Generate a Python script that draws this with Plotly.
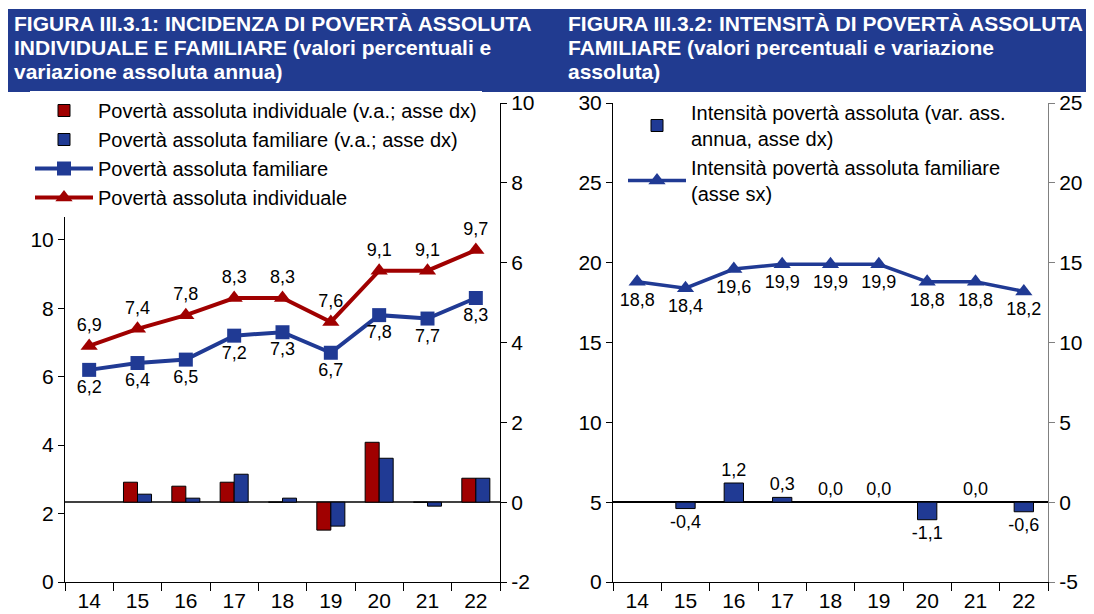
import plotly.graph_objects as go

years = ["14", "15", "16", "17", "18", "19", "20", "21", "22"]

# Figure III.3.1
pov_fam = [6.2, 6.4, 6.5, 7.2, 7.3, 6.7, 7.8, 7.7, 8.3]
pov_ind = [6.9, 7.4, 7.8, 8.3, 8.3, 7.6, 9.1, 9.1, 9.7]
var_ind = [None, 0.5, 0.4, 0.5, 0.0, -0.7, 1.5, 0.0, 0.6]
var_fam = [None, 0.2, 0.1, 0.7, 0.1, -0.6, 1.1, -0.1, 0.6]

# Figure III.3.2
intens = [18.8, 18.4, 19.6, 19.9, 19.9, 19.9, 18.8, 18.8, 18.2]
intens_var = [None, -0.4, 1.2, 0.3, 0.0, 0.0, -1.1, 0.0, -0.6]

# right-axis tick labels (with plain hyphen minus as in the source)
y2_ticks = [-2, 0, 2, 4, 6, 8, 10]
y4_ticks = [-5, 0, 5, 10, 15, 20, 25]

title1 = ["FIGURA III.3.1: INCIDENZA DI POVERTÀ ASSOLUTA",
          "INDIVIDUALE E FAMILIARE (valori percentuali e",
          "variazione assoluta annua)"]
title2 = ["FIGURA III.3.2: INTENSITÀ DI POVERTÀ ASSOLUTA",
          "FAMILIARE (valori percentuali e variazione",
          "assoluta)"]

RED = "#A00000"
BLUE = "#203A94"
TITLE_BG = "#213B90"
FONT = "Liberation Sans, Arial, sans-serif"


def lab(vals):
    return ["" if v is None else f"{v:.1f}".replace(".", ",") for v in vals]


# the page body has an 8px margin: the figure origin sits at (8, 8) of the window
OFF = 8
W, H = 1094 - OFF, 614 - OFF
def px(x):
    return (x - OFF) / W
def py(y):
    return 1 - (y - OFF) / H

fig = go.Figure()

# ---- left chart ----
fig.add_trace(go.Bar(
    x=years, y=var_ind, name="Povertà assoluta individuale (v.a.; asse dx)",
    marker=dict(color=RED, line=dict(color="black", width=1)),
    xaxis="x", yaxis="y2", offsetgroup="a", legend="legend", legendgroup="g1"))
fig.add_trace(go.Bar(
    x=years, y=var_fam, name="Povertà assoluta familiare (v.a.; asse dx)",
    marker=dict(color=BLUE, line=dict(color="black", width=1)),
    xaxis="x", yaxis="y2", offsetgroup="b", legend="legend", legendgroup="g2"))
fig.add_trace(go.Scatter(
    x=years, y=pov_fam, name="Povertà assoluta familiare",
    mode="lines+markers+text", text=lab(pov_fam), textposition="bottom center",
    textfont=dict(size=18, color="black"),
    line=dict(color=BLUE, width=4), marker=dict(symbol="square", size=14, color=BLUE),
    xaxis="x", yaxis="y", legend="legend", legendgroup="g3", cliponaxis=False))
fig.add_trace(go.Scatter(
    x=years, y=pov_ind, name="Povertà assoluta individuale",
    mode="lines+markers+text", text=lab(pov_ind), textposition="top center",
    textfont=dict(size=18, color="black"),
    line=dict(color=RED, width=4), marker=dict(symbol="triangle-up", size=15, color=RED),
    xaxis="x", yaxis="y", legend="legend", legendgroup="g4", cliponaxis=False))

# ---- right chart ----
fig.add_trace(go.Bar(
    x=years, y=intens_var, name="Intensità povertà assoluta (var. ass.<br>annua, asse dx)",
    text=lab(intens_var), textposition="outside", textfont=dict(size=18, color="black"),
    constraintext="none",
    width=0.4, marker=dict(color=BLUE, line=dict(color="black", width=1)),
    xaxis="x2", yaxis="y4", legend="legend2", cliponaxis=False))
fig.add_trace(go.Scatter(
    x=years, y=intens, name="Intensità povertà assoluta familiare<br>(asse sx)",
    mode="lines+markers+text", text=lab(intens), textposition="bottom center",
    textfont=dict(size=18, color="black"),
    line=dict(color=BLUE, width=3.5), marker=dict(symbol="triangle-up", size=15, color=BLUE),
    xaxis="x2", yaxis="y3", legend="legend2", cliponaxis=False))

ydom = [py(582), py(103)]
xdom1 = [px(65), px(500)]
xdom2 = [px(613), px(1048)]

xcommon = dict(type="category", tickson="boundaries", ticks="outside", ticklen=8,
               showline=True, linecolor="black", linewidth=1, showgrid=False,
               tickcolor="black", automargin=False,
               tickfont=dict(size=21, color="black"), range=[-0.5, 8.5])
ybase = dict(ticks="outside", ticklen=6, showline=True, linewidth=1, automargin=False,
             showgrid=False, tickfont=dict(size=21, color="black"))

fig.update_layout(
    template="none",
    width=W, height=H, margin=dict(l=0, r=0, t=0, b=0, autoexpand=False),
    paper_bgcolor="white", plot_bgcolor="white",
    font=dict(family=FONT, size=20, color="black"),
    separators=",.",
    barmode="group", bargap=0.42, bargroupgap=0,
    xaxis=dict(domain=xdom1, anchor="y", **xcommon),
    yaxis=dict(domain=ydom, anchor="x", range=[0, 14], dtick=2, linecolor="black",
               tickcolor="black", zeroline=False, **ybase),
    yaxis2=dict(domain=ydom, anchor="x", overlaying="y", side="right", range=[-2, 10],
                tickmode="array", tickvals=y2_ticks, ticktext=[str(t) for t in y2_ticks],
                linecolor="black", tickcolor="black", **ybase,
                zeroline=True, zerolinecolor="#404040", zerolinewidth=2),
    xaxis2=dict(domain=xdom2, anchor="y3", **xcommon),
    yaxis3=dict(domain=ydom, anchor="x2", range=[0, 30], dtick=5, linecolor="black",
                tickcolor="black", zeroline=False, **ybase),
    yaxis4=dict(domain=ydom, anchor="x2", overlaying="y3", side="right", range=[-5, 25],
                tickmode="array", tickvals=y4_ticks, ticktext=[str(t) for t in y4_ticks],
                linecolor="#808080", tickcolor="#808080", **ybase,
                zeroline=True, zerolinecolor="black", zerolinewidth=1.5),
    xaxis3=dict(overlaying="x2", anchor="free", position=ydom[0] + (ydom[1] - ydom[0]) * 5 / 30,
                range=[-0.5, 8.5], tick0=-0.5, dtick=1, ticks="outside", ticklen=6,
                showticklabels=False, showgrid=False, zeroline=False, showline=False,
                tickcolor="black", automargin=False),
    legend=dict(x=px(30), y=py(91), xanchor="left", yanchor="top", bgcolor="white",
                font=dict(size=20, color="black"), itemwidth=58, tracegroupgap=0,
                traceorder="normal", borderwidth=0),
    legend2=dict(x=px(623), y=py(93), xanchor="left", yanchor="top", bgcolor="rgba(0,0,0,0)",
                 font=dict(size=20, color="black"), itemwidth=58, traceorder="normal",
                 borderwidth=0),
    showlegend=True,
)

# title bar
fig.add_shape(type="rect", xref="paper", yref="paper", x0=px(8), x1=1.0, y0=py(92), y1=py(9),
              fillcolor=TITLE_BG, line=dict(width=0), layer="above")
for i, (l1, l2) in enumerate(zip(title1, title2)):
    yc = 23 + i * 24.5
    fig.add_annotation(text=f"<b>{l1}</b>", xref="paper", yref="paper", x=px(12), y=py(yc),
                       xanchor="left", yanchor="middle", showarrow=False,
                       font=dict(size=21, color="white", family=FONT))
    fig.add_annotation(text=f"<b>{l2}</b>", xref="paper", yref="paper", x=px(566), y=py(yc),
                       xanchor="left", yanchor="middle", showarrow=False,
                       font=dict(size=21, color="white", family=FONT))

fig.write_html("out.html")
